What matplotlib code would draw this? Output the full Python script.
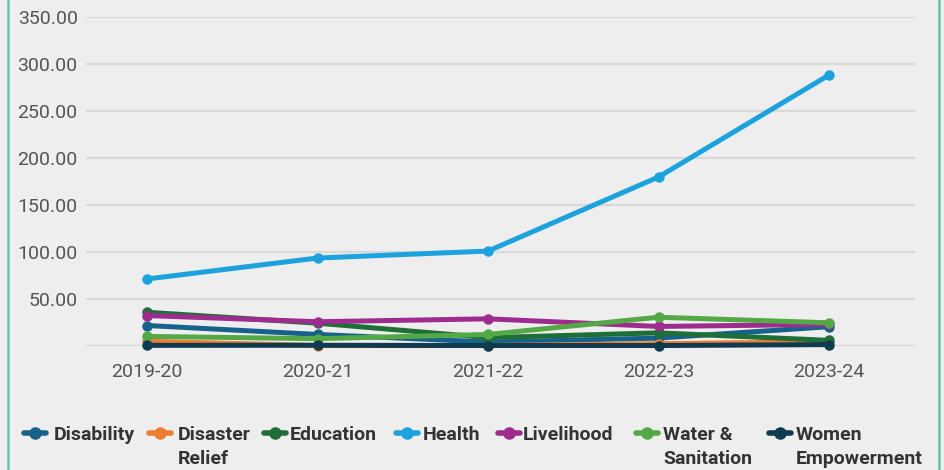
import matplotlib
matplotlib.use("Agg")
import matplotlib.pyplot as plt
from matplotlib.lines import Line2D

plt.rcParams['font.family'] = ['Roboto', 'DejaVu Sans']

years = ["2019-20", "2020-21", "2021-22", "2022-23", "2023-24"]
series_names = ["Disability", "Disaster\nRelief", "Education", "Health", "Livelihood",
                "Water &\nSanitation", "Women\nEmpowerment"]
disability = [21.8, 12.3, 4.2, 8.4, 20.5]
disaster_relief = [5.0, 0.5, 0.5, 2.5, 4.5]
education = [35.9, 24.3, 8.9, 14.0, 6.0]
health = [71.3, 93.6, 101.0, 179.8, 288.3]
livelihood = [32.4, 25.8, 28.9, 20.8, 23.0]
water_sanitation = [10.2, 7.8, 12.3, 30.6, 24.7]
women_empowerment = [0.7, 0.8, 0.5, 0.5, 1.5]
yticks = [0, 50, 100, 150, 200, 250, 300, 350]

values = [disability, disaster_relief, education, health, livelihood,
          water_sanitation, women_empowerment]
colors = ["#17628a", "#ed7d31", "#1e6e38", "#1ca2dc", "#9d2c8e", "#54a946", "#0f3a4f"]

bg = "#eeeeee"
W, H = 944, 470
fig = plt.figure(figsize=(W / 100, H / 100), dpi=100, facecolor=bg)
ax = fig.add_axes([86 / W, (H - 346) / H, (915 - 86) / W, (346 - 17) / H])
ax.set_facecolor(bg)

x = list(range(len(years)))
for vals, c in zip(values, colors):
    ax.plot(x, vals, color=c, lw=3.6, marker='o', ms=6.5, solid_capstyle='round',
            clip_on=False, zorder=3)

ax.set_xlim(-(147 - 86) / 170.5, 4 + (915 - 829) / 170.5)
ax.set_ylim(0, 350)
ax.set_yticks(yticks)
ax.set_yticklabels(["" if v == 0 else f"{v:.2f}" for v in yticks])
ax.set_xticks(x)
ax.set_xticklabels(years)
ax.grid(axis='y', color='#d9d9d9', lw=1.6, zorder=0)
for s in ax.spines.values():
    s.set_visible(False)
ax.tick_params(axis='both', length=0, labelsize=14, colors='#555555')
ax.tick_params(axis='x', pad=12)
ax.tick_params(axis='y', pad=6)

# legend (manual, figure coordinates)
marker_x = [24, 149, 264, 396, 498, 636, 769]
text_x = [54, 178, 290, 423, 523, 663, 796]
my = 433
for name, c, mx, tx in zip(series_names, colors, marker_x, text_x):
    fig.add_artist(Line2D([mx / W, (mx + 22) / W], [(H - my) / H] * 2, color=c, lw=4,
                          solid_capstyle='round', transform=fig.transFigure))
    fig.add_artist(Line2D([(mx + 11) / W], [(H - my) / H], color=c, marker='o', ms=8,
                          transform=fig.transFigure))
    fig.text(tx / W, (H - 426) / H, name, ha='left', va='top', fontsize=14,
             fontweight='semibold', color='#333333', linespacing=1.4)

# teal side borders
for bx in [7.5, 938.5]:
    fig.add_artist(Line2D([bx / W, bx / W], [0, 1], color='#5cc5b0', lw=1.8,
                          transform=fig.transFigure))

fig.savefig("out.png", dpi=100, facecolor=bg)
